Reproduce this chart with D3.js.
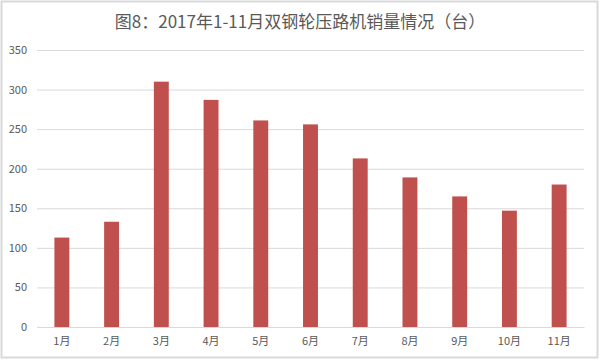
<!DOCTYPE html>
<html><head><meta charset="utf-8">
<script src="https://cdn.jsdelivr.net/npm/d3@7"></script>
<style>body{margin:0;background:#fff}svg{display:block}</style>
</head><body>
<svg id="c" width="600" height="360"></svg>
<script>
const title = "图8：2017年1-11月双钢轮压路机销量情况（台）";
const categories = ["1月","2月","3月","4月","5月","6月","7月","8月","9月","10月","11月"];
const values = [113, 133, 310, 287, 261, 256, 213, 189, 165, 147, 180];
const yTicks = [0, 50, 100, 150, 200, 250, 300, 350];

const svg = d3.select("#c");
const font = "'Noto Sans CJK SC', 'Microsoft YaHei', sans-serif";
svg.append("rect").attr("x",1.5).attr("y",1.5).attr("width",596).attr("height",356)
  .attr("fill","#fff").attr("stroke","#d9d9d9").attr("stroke-width",2);

const x = d3.scaleBand().domain(categories).range([37, 584]).paddingInner(0.7).paddingOuter(0.35);
const y = d3.scaleLinear().domain([0, 350]).range([327, 50]);

svg.append("text").attr("x", 300).attr("y", 28).attr("text-anchor","middle")
  .attr("font-family", font).attr("font-size", 17).attr("fill", "#595959").text(title);

const yAxis = svg.append("g").attr("transform","translate(37,0)")
  .call(d3.axisLeft(y).tickValues(yTicks).tickSize(-547).tickPadding(10));
yAxis.select(".domain").remove();
yAxis.selectAll(".tick line").attr("stroke","#d9d9d9");
yAxis.selectAll(".tick text").attr("font-family", font).attr("font-size", 11).attr("fill","#595959");

svg.append("g").selectAll("rect").data(values).join("rect")
  .attr("x", (d,i)=>x(categories[i])).attr("width", x.bandwidth())
  .attr("y", d=>y(d)).attr("height", d=>y(0)-y(d)).attr("fill","#c0504d");

const xAxis = svg.append("g").attr("transform","translate(0,327)")
  .call(d3.axisBottom(x).tickSize(0).tickPadding(10));
xAxis.select(".domain").attr("stroke","#d9d9d9");
xAxis.selectAll(".tick text").attr("font-family", font).attr("font-size", 11).attr("fill","#595959");
</script>
</body></html>
